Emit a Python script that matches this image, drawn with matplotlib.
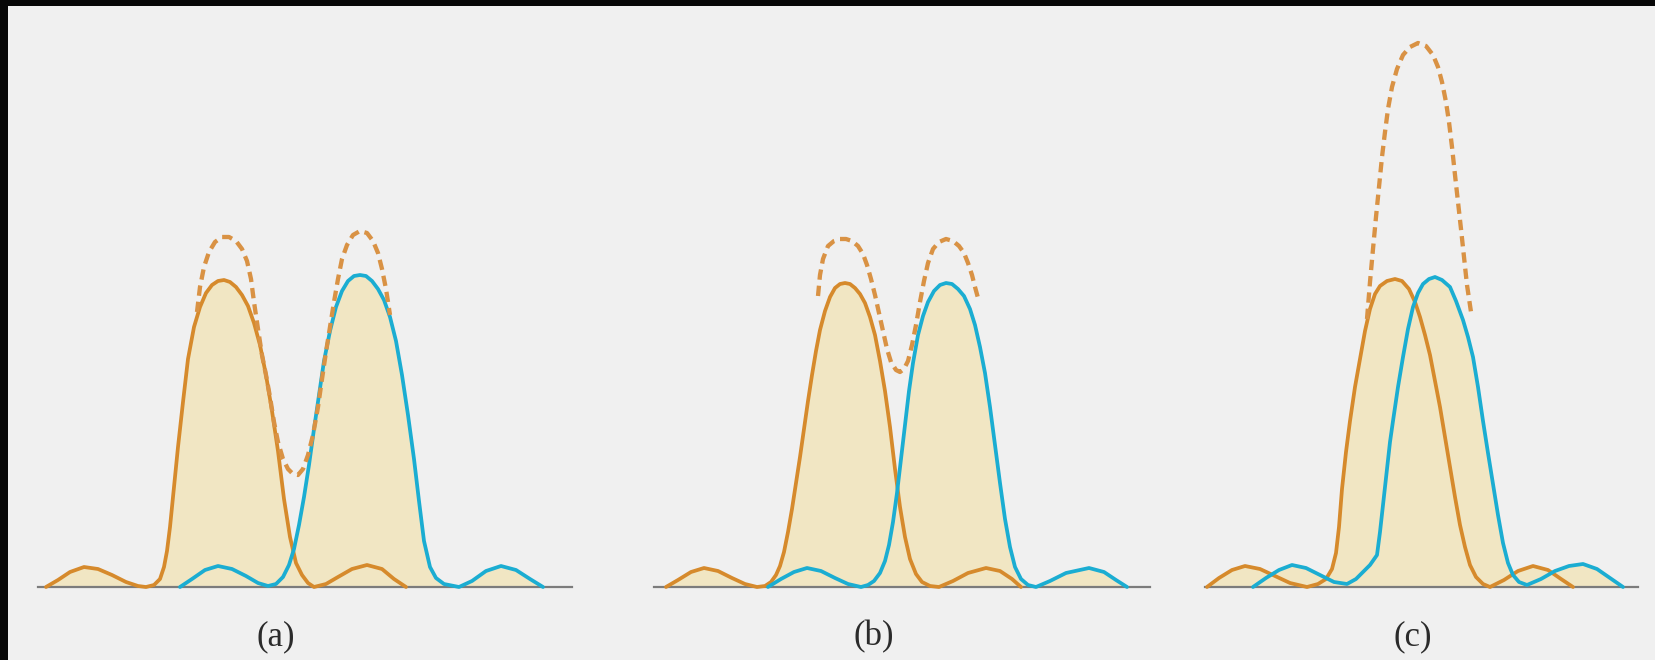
import matplotlib
matplotlib.use("Agg")
import matplotlib.pyplot as plt
from matplotlib.patches import Rectangle

# ---------------- data (position, intensity) ----------------
panel_labels = ["(a)", "(b)", "(c)"]
panel_xlim = [(38, 572), (654, 1150), (1205, 1638)]
label_x = [276, 874, 1413]

# panel (a)
a_orange_x = [46, 58, 70, 84, 98, 112, 126, 138, 146, 154, 160, 164, 167, 170, 174, 178, 183, 188, 194, 200,
              206, 212, 218, 224, 230, 236, 242, 248, 254, 260, 266, 272, 278, 284, 290, 296, 302, 308, 314,
              326, 338, 352, 367, 382, 394, 406]
a_orange_y = [0, 7, 15, 20, 18, 12, 5, 1, 0, 2, 8, 20, 36, 60, 100, 140, 185, 228, 260, 280,
              294, 302, 306, 307, 305, 300, 292, 281, 264, 242, 212, 176, 136, 88, 50, 24, 12, 4, 0,
              3, 10, 18, 22, 18, 8, 0]
a_blue_x = [180, 192, 205, 218, 232, 246, 258, 268, 276, 283, 289, 294, 299, 304, 309, 314, 319, 324, 330, 336,
            342, 348, 354, 360, 366, 372, 378, 384, 390, 396, 402, 408, 414, 419, 424, 430, 436, 444, 459,
            472, 486, 501, 516, 530, 543]
a_blue_y = [0, 8, 17, 21, 18, 11, 4, 1, 3, 10, 22, 38, 62, 90, 122, 158, 192, 226, 256, 280,
            296, 306, 311, 312, 311, 306, 298, 287, 270, 246, 212, 172, 128, 86, 46, 20, 9, 3, 0,
            6, 16, 21, 17, 8, 0]
a_sum_x = [197, 200, 204, 209, 215, 222, 229, 236, 242, 247, 251, 254, 258, 262, 266, 270, 274, 278, 283, 288,
           293, 298, 303, 308, 313, 318, 322, 326, 330, 334, 338, 342, 347, 353, 360, 367, 373, 378, 382, 386, 390]
a_sum_y = [275, 300, 320, 335, 345, 350, 350, 346, 338, 326, 308, 285, 258, 232, 212, 190, 165, 145, 128, 118,
           113, 112, 118, 132, 152, 180, 208, 235, 260, 285, 308, 328, 342, 352, 356, 354, 346, 334, 318, 298, 272]

# panel (b)
b_orange_x = [666, 678, 691, 704, 718, 732, 745, 757, 765, 771, 776, 780, 784, 788, 792, 796, 800, 804, 808, 812,
              816, 820, 825, 830, 835, 840, 845, 850, 855, 860, 865, 870, 875, 880, 885, 890, 895, 900, 905, 910,
              916, 922, 930, 939, 953, 968, 986, 1000, 1012, 1021]
b_orange_y = [0, 7, 15, 19, 16, 9, 3, 0, 1, 5, 12, 21, 35, 55, 78, 104, 130, 158, 186, 212,
              236, 257, 276, 290, 299, 303, 304, 303, 299, 293, 284, 270, 252, 226, 196, 160, 118, 80, 50, 28,
              13, 5, 1, 0, 6, 14, 19, 16, 8, 0]
b_blue_x = [768, 781, 794, 807, 821, 835, 848, 861, 868, 874, 880, 885, 889, 893, 897, 901, 905, 909, 913, 918,
            923, 928, 934, 940, 946, 952, 958, 964, 970, 975, 980, 985, 990, 995, 1000, 1005, 1010, 1015, 1021,
            1028, 1036, 1050, 1066, 1089, 1104, 1116, 1127]
b_blue_y = [0, 8, 15, 19, 16, 9, 3, 0, 2, 6, 14, 26, 42, 65, 94, 128, 162, 196, 224, 252,
            271, 285, 296, 302, 304, 303, 298, 291, 278, 262, 240, 214, 180, 142, 104, 68, 40, 20, 8,
            2, 0, 6, 14, 19, 15, 7, 0]
b_sum_x = [818, 820, 823, 828, 834, 840, 846, 852, 858, 863, 867, 871, 875, 879, 883, 887, 891, 896, 900, 904,
           908, 912, 916, 920, 924, 928, 933, 939, 946, 953, 959, 964, 968, 972, 975, 978]
b_sum_y = [291, 312, 328, 341, 346, 348, 348, 346, 341, 333, 322, 308, 292, 274, 256, 238, 225, 217, 215, 218,
           226, 242, 262, 285, 306, 324, 338, 345, 348, 346, 341, 334, 324, 312, 300, 289]

# panel (c)
c_orange_x = [1207, 1219, 1232, 1245, 1260, 1275, 1290, 1307, 1318, 1326, 1332, 1336, 1339, 1342, 1346, 1350,
              1355, 1360, 1365, 1370, 1375, 1380, 1387, 1395, 1402, 1409, 1415, 1420, 1425, 1430, 1435, 1440,
              1445, 1450, 1455, 1460, 1465, 1470, 1476, 1483, 1490, 1504, 1518, 1533, 1548, 1561, 1573]
c_orange_y = [0, 9, 17, 21, 18, 11, 4, 0, 3, 8, 18, 34, 60, 98, 135, 166,
              200, 228, 256, 278, 293, 301, 306, 308, 306, 298, 285, 270, 252, 232, 206, 180,
              150, 120, 90, 62, 40, 22, 10, 3, 0, 7, 16, 21, 17, 8, 0]
c_blue_x = [1253, 1266, 1279, 1292, 1306, 1320, 1334, 1347, 1356, 1363, 1370, 1377, 1380, 1383, 1387, 1390,
            1393, 1398, 1403, 1408, 1413, 1418, 1423, 1429, 1435, 1442, 1450, 1456, 1463, 1468, 1473, 1478,
            1483, 1488, 1493, 1498, 1503, 1508, 1513, 1519, 1527, 1541, 1555, 1569, 1583, 1597, 1610, 1623]
c_blue_y = [0, 9, 17, 22, 19, 12, 5, 3, 8, 15, 22, 32, 55, 82, 118, 145,
            166, 200, 230, 258, 280, 294, 303, 308, 310, 307, 300, 286, 267, 250, 230, 200,
            166, 134, 103, 72, 44, 24, 12, 5, 2, 8, 16, 21, 23, 18, 9, 0]
c_sum_x = [1367, 1370, 1373, 1376, 1379, 1382, 1385, 1388, 1392, 1397, 1403, 1410, 1418, 1426, 1433, 1438,
           1442, 1446, 1449, 1452, 1455, 1458, 1461, 1464, 1467, 1471]
c_sum_y = [268, 305, 338, 370, 400, 430, 455, 478, 500, 518, 532, 540, 544, 541, 532, 520,
           505, 485, 465, 440, 412, 385, 358, 330, 302, 275]

orange_x = [a_orange_x, b_orange_x, c_orange_x]
orange_y = [a_orange_y, b_orange_y, c_orange_y]
blue_x = [a_blue_x, b_blue_x, c_blue_x]
blue_y = [a_blue_y, b_blue_y, c_blue_y]
sum_x = [a_sum_x, b_sum_x, c_sum_x]
sum_y = [a_sum_y, b_sum_y, c_sum_y]

# ---------------- styling ----------------
W, H, DPI = 1656, 660, 100
BG = "#f0f0f0"
ORANGE = "#d68a2c"
DASH = "#d99244"
BLUE = "#1badd2"
FILL = "#f1e6c3"
AXIS = "#7c7c7c"
BASE_Y = 587      # baseline pixel row
TOP_Y = 20
YMAX = BASE_Y - TOP_Y

fig = plt.figure(figsize=(W / DPI, H / DPI), dpi=DPI, facecolor=BG)

for i in range(3):
    x0, x1 = panel_xlim[i]
    ax = fig.add_axes([x0 / W, (H - BASE_Y) / H, (x1 - x0) / W, YMAX / H])
    ax.set_facecolor("none")
    ax.set_xlim(x0, x1)
    ax.set_ylim(0, YMAX)
    for s in ("top", "left", "right"):
        ax.spines[s].set_visible(False)
    ax.spines["bottom"].set_color(AXIS)
    ax.spines["bottom"].set_linewidth(1.6)
    ax.spines["bottom"].set_zorder(1)
    ax.set_xticks([])
    ax.set_yticks([])

    ax.fill_between(orange_x[i], 0, orange_y[i], color=FILL, lw=0, zorder=0)
    ax.fill_between(blue_x[i], 0, blue_y[i], color=FILL, lw=0, zorder=0)
    ax.plot(orange_x[i], orange_y[i], color=ORANGE, lw=2.7, solid_capstyle="round",
            solid_joinstyle="round", zorder=3, clip_on=False)
    ax.plot(blue_x[i], blue_y[i], color=BLUE, lw=2.7, solid_capstyle="round",
            solid_joinstyle="round", zorder=4, clip_on=False)
    ax.plot(sum_x[i], sum_y[i], color=DASH, lw=3.1, linestyle=(0, (2.4, 1.4)),
            dash_capstyle="butt", zorder=5, clip_on=False)

    fig.text(label_x[i] / W, (H - 637) / H, panel_labels[i], ha="center", va="center",
             fontsize=25, family="Liberation Serif", color="#2b2b2b")

# black frame strips (top and left) of the original scan
fig.patches.append(Rectangle((0, 1 - 6 / H), 1, 6 / H, transform=fig.transFigure,
                             color="#070707", lw=0, zorder=10))
fig.patches.append(Rectangle((0, 0), 8 / W, 1, transform=fig.transFigure,
                             color="#070707", lw=0, zorder=10))

fig.savefig("out.png", dpi=DPI, facecolor=BG)
